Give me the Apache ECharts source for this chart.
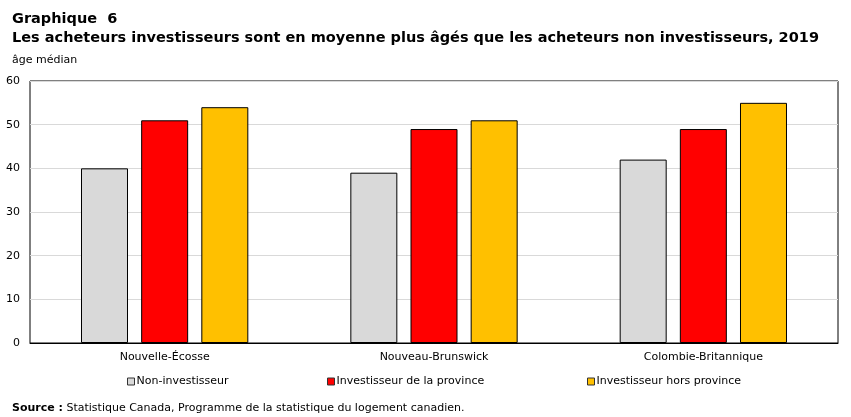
<!DOCTYPE html>
<html>
<head>
<meta charset="utf-8">
<script src="https://cdn.jsdelivr.net/npm/echarts@6/dist/echarts.min.js"></script>
<style>
  html, body { margin: 0; padding: 0; background: #fff; }
  #chart { width: 851px; height: 417px; }
</style>
</head>
<body>
<div id="chart"></div>
<script>
// données
const provinces = ['Nouvelle-Écosse', 'Nouveau-Brunswick', 'Colombie-Britannique'];
const nonInvestisseur = [40, 39, 42];
const investisseurProvince = [51, 49, 49];
const investisseurHors = [54, 51, 55];
const seriesNames = ['Non-investisseur', 'Investisseur de la province', 'Investisseur hors province'];
const seriesColors = ['#d9d9d9', '#ff0000', '#ffc000'];
const yTicks = [0, 10, 20, 30, 40, 50, 60];

const font = 'Verdana, "DejaVu Sans", sans-serif';
let myChart = echarts.init(document.getElementById('chart'));

function bar(name, data, color) {
  return {
    name: name,
    type: 'bar',
    data: data,
    barWidth: 47,
    barGap: '28%',
    itemStyle: { color: color, borderColor: '#000', borderWidth: 1 },
    emphasis: { disabled: true }
  };
}

function legendAt(name, left) {
  return {
    data: [name],
    left: left,
    top: 376,
    icon: 'rect',
    itemWidth: 7,
    itemHeight: 7,
    itemGap: 0,
    padding: 0,
    textStyle: { fontFamily: font, fontSize: 11, color: '#000', padding: [0, 0, 0, -3] },
    itemStyle: { borderColor: '#333', borderWidth: 1 }
  };
}

let option = {
  animation: false,
  textStyle: { fontFamily: font },
  title: [
    {
      text: 'Graphique  6\nLes acheteurs investisseurs sont en moyenne plus âgés que les acheteurs non investisseurs, 2019',
      left: 7, top: 5,
      textStyle: { fontFamily: font, fontSize: 14.5, fontWeight: 'bold', color: '#000', lineHeight: 19 }
    },
    {
      text: 'âge médian',
      left: 7, top: 50,
      textStyle: { fontFamily: font, fontSize: 11, fontWeight: 'normal', color: '#000' }
    },
    {
      text: '{b|Source :} Statistique Canada, Programme de la statistique du logement canadien.',
      left: 7, top: 398,
      textStyle: {
        fontFamily: font, fontSize: 11, fontWeight: 'normal', color: '#000',
        rich: { b: { fontFamily: font, fontSize: 11, fontWeight: 'bold', color: '#000' } }
      }
    }
  ],
  legend: [
    legendAt(seriesNames[0], 127),
    legendAt(seriesNames[1], 327),
    legendAt(seriesNames[2], 587)
  ],
  grid: {
    left: 30, right: 13, top: 81, bottom: 74,
    show: true, borderColor: '#000', borderWidth: 1,
    containLabel: false
  },
  xAxis: {
    type: 'category',
    data: provinces,
    axisLine: { lineStyle: { color: '#000' } },
    axisTick: { show: false },
    axisLabel: { fontFamily: font, fontSize: 11, color: '#000', margin: 9 }
  },
  yAxis: {
    type: 'value',
    min: yTicks[0],
    max: yTicks[yTicks.length - 1],
    interval: 10,
    axisLine: { show: false },
    axisTick: { show: false },
    axisLabel: { fontFamily: font, fontSize: 11, color: '#000', margin: 10 },
    splitLine: { lineStyle: { color: '#d9d9d9' } }
  },
  series: [
    bar(seriesNames[0], nonInvestisseur, seriesColors[0]),
    bar(seriesNames[1], investisseurProvince, seriesColors[1]),
    bar(seriesNames[2], investisseurHors, seriesColors[2])
  ]
};
myChart.setOption(option);
</script>
</body>
</html>
